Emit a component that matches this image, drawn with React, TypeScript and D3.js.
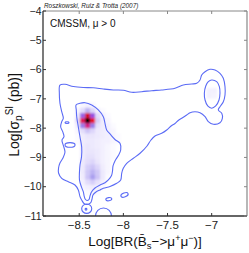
import * as d3 from 'd3'

const W = 249
const H = 253
const M = { left: 43, right: 247, top: 11, bottom: 216 }

const xTicks = [-8.5, -8, -7.5, -7]
const yTicks = [-4, -5, -6, -7, -8, -9, -10, -11]

// outer (95%) contour, data units
const outerContour: [number, number][] = [
  [-8.718, -6.527], [-8.661, -6.503], [-8.567, -6.578], [-8.454, -6.612], [-8.34, -6.619],
  [-8.227, -6.663], [-8.114, -6.697], [-8.001, -6.707], [-7.905, -6.776], [-7.792, -6.755],
  [-7.679, -6.721], [-7.566, -6.697], [-7.415, -6.639], [-7.321, -6.527], [-7.226, -6.492],
  [-7.169, -6.468], [-7.132, -6.356], [-7.113, -6.185], [-7.075, -6.072], [-7.019, -5.99],
  [-6.962, -6.014], [-6.906, -6.127], [-6.868, -6.298], [-6.849, -6.585], [-6.849, -6.868],
  [-6.868, -7.097], [-6.906, -7.267], [-6.925, -7.38], [-6.886, -7.493], [-6.879, -7.663],
  [-6.906, -7.814], [-6.981, -7.868], [-7.038, -7.78], [-7.075, -7.609], [-7.132, -7.472],
  [-7.189, -7.438], [-7.245, -7.472], [-7.283, -7.551], [-7.339, -7.663], [-7.378, -7.739],
  [-7.415, -7.841], [-7.452, -7.909], [-7.509, -8.063], [-7.566, -8.176], [-7.642, -8.268],
  [-7.687, -8.404], [-7.732, -8.609], [-7.811, -8.858], [-7.887, -9.029], [-7.962, -9.2],
  [-8.001, -9.371], [-8.019, -9.541], [-8.03, -9.77], [-8.075, -9.883], [-8.151, -9.992],
  [-8.227, -10.053], [-8.264, -10.111], [-8.31, -10.18], [-8.344, -10.282], [-8.355, -10.419],
  [-8.372, -10.555], [-8.412, -10.606], [-8.446, -10.572], [-8.472, -10.453], [-8.491, -10.34],
  [-8.51, -10.111], [-8.548, -9.941], [-8.623, -9.828], [-8.698, -9.712], [-8.734, -9.531],
  [-8.734, -9.36], [-8.718, -9.19], [-8.684, -9.019], [-8.661, -8.814], [-8.678, -8.609],
  [-8.695, -8.404], [-8.672, -8.292], [-8.687, -8.121], [-8.71, -7.95], [-8.698, -7.78],
  [-8.68, -7.663], [-8.698, -7.438], [-8.718, -7.151], [-8.725, -6.81],
]

// inner (68%) contour around the main peak
const innerContour: [number, number][] = [
  [-8.536, -7.209], [-8.491, -7.151], [-8.434, -7.131], [-8.358, -7.209], [-8.284, -7.38],
  [-8.227, -7.609], [-8.208, -7.834], [-8.189, -8.063], [-8.151, -8.199], [-8.095, -8.387],
  [-8.038, -8.517], [-8.03, -8.746], [-8.057, -8.934], [-8.095, -9.121], [-8.117, -9.292],
  [-8.123, -9.463], [-8.134, -9.616], [-8.17, -9.77], [-8.208, -9.862], [-8.264, -9.941],
  [-8.321, -10.043], [-8.361, -10.18], [-8.378, -10.316], [-8.389, -10.436], [-8.412, -10.47],
  [-8.429, -10.436], [-8.442, -10.34], [-8.454, -10.17], [-8.476, -9.999], [-8.497, -9.77],
  [-8.497, -9.497], [-8.491, -9.258], [-8.474, -8.985], [-8.472, -8.643], [-8.491, -8.302],
  [-8.51, -7.96], [-8.528, -7.619], [-8.533, -7.38],
]

// inner contour of the secondary mode at large BR
const innerRight: [number, number][] = [
  [-7.0, -6.356], [-6.943, -6.414], [-6.913, -6.585], [-6.906, -6.81], [-6.917, -7.039],
  [-6.954, -7.243], [-7.0, -7.322], [-7.045, -7.243], [-7.075, -7.039], [-7.083, -6.81],
  [-7.067, -6.561], [-7.038, -6.414],
]

// small isolated islands: centre x, centre y, half-width, half-height (data units), tilt (deg)
const islands: [number, number, number, number, number][] = [
  [-8.604, -8.575, 0.057, 0.079, 0],
  [-8.638, -7.814, 0.023, 0.03, 0],
  [-8.415, -10.75, 0.057, 0.16, 0],
  [-8.423, -10.77, 0.01, 0.03, 0],
  [-8.225, -11.017, 0.091, 0.29, 0],
  [-8.165, -10.426, 0.034, 0.055, -10],
  [-7.987, -10.282, 0.043, 0.068, -20],
]

// posterior density on bins (centres)
const densityX = [-8.578, -8.52, -8.463, -8.405, -8.348, -8.29, -8.233, -8.175, -8.118, -8.06]
const densityY = [
  -7.22, -7.395, -7.57, -7.745, -7.92, -8.095, -8.27, -8.445, -8.62,
  -8.795, -8.97, -9.145, -9.32, -9.495, -9.67, -9.845, -10.02, -10.195,
]
const density = [
  [0, 0, 0.02, 0.03, 0.02, 0, 0, 0, 0, 0],
  [0, 0.02, 0.08, 0.2, 0.1, 0.03, 0.01, 0, 0, 0],
  [0, 0.04, 0.4, 0.78, 0.45, 0.08, 0.03, 0.01, 0, 0],
  [0, 0.08, 0.7, 1.0, 0.75, 0.12, 0.04, 0.02, 0, 0],
  [0, 0.04, 0.35, 0.65, 0.35, 0.07, 0.04, 0.03, 0.01, 0],
  [0, 0.02, 0.08, 0.15, 0.1, 0.05, 0.04, 0.03, 0.02, 0],
  [0, 0.01, 0.04, 0.06, 0.06, 0.05, 0.04, 0.03, 0.02, 0.01],
  [0, 0.01, 0.04, 0.05, 0.05, 0.04, 0.03, 0.03, 0.02, 0.01],
  [0, 0, 0.04, 0.06, 0.05, 0.04, 0.03, 0.02, 0.01, 0],
  [0, 0, 0.04, 0.06, 0.06, 0.05, 0.03, 0.02, 0.01, 0],
  [0, 0, 0.04, 0.07, 0.07, 0.05, 0.03, 0.02, 0.01, 0],
  [0, 0, 0.05, 0.08, 0.1, 0.06, 0.03, 0.02, 0, 0],
  [0, 0, 0.05, 0.12, 0.15, 0.1, 0.04, 0.02, 0, 0],
  [0, 0, 0.05, 0.14, 0.2, 0.14, 0.05, 0.02, 0, 0],
  [0, 0, 0.04, 0.15, 0.26, 0.15, 0.05, 0.01, 0, 0],
  [0, 0, 0.03, 0.08, 0.12, 0.07, 0.03, 0, 0, 0],
  [0, 0, 0.02, 0.03, 0.04, 0.03, 0.01, 0, 0, 0],
  [0, 0, 0, 0.01, 0.02, 0.01, 0, 0, 0, 0],
]
const densityRightX = [-7.03, -6.97]
const densityRightY = [-6.72, -6.895]
const densityRight = [
  [0.03, 0.03],
  [0.03, 0.025],
]

const colorStops = [0, 0.03, 0.1, 0.2, 0.3, 0.45, 0.6, 0.75, 0.88, 1]
const colorRange = [
  '#ffffff', '#f3f0fe', '#ddd6fa', '#bcb2f3', '#9d90ec',
  '#9a4ee0', '#d21fa8', '#e8102a', '#9a0000', '#000000',
]

const BIN_W = 0.0575
const BIN_H = 0.175
const FONT = 'Liberation Sans, Arial, Helvetica, sans-serif'
const CONTOUR = '#5b6bf5'

export default function App(): JSX.Element {
  const x = d3.scaleLinear().domain([-8.91, -6.6]).range([M.left, M.right])
  const y = d3.scaleLinear().domain([-11, -4]).range([M.bottom, M.top])
  const color = d3.scaleLinear<string>().domain(colorStops).range(colorRange).interpolate(d3.interpolateRgb).clamp(true)

  const line = d3
    .line<[number, number]>()
    .x((d) => x(d[0]))
    .y((d) => y(d[1]))
    .curve(d3.curveCatmullRomClosed.alpha(0.5))

  const cells: { x: number; y: number; v: number }[] = []
  density.forEach((row, r) => row.forEach((v, c) => {
    if (v > 0) cells.push({ x: densityX[c], y: densityY[r], v })
  }))
  densityRight.forEach((row, r) => row.forEach((v, c) => {
    cells.push({ x: densityRightX[c], y: densityRightY[r], v })
  }))

  const cw = x(BIN_W) - x(0)
  const ch = y(0) - y(BIN_H)

  return (
    <div style={{ position: 'fixed', left: 0, top: 0 }}>
      <svg width={W} height={H} style={{ display: 'block', background: '#fff' }} fontFamily={FONT}>
        <defs>
          <clipPath id="plotClip">
            <rect x={M.left} y={M.top} width={M.right - M.left} height={M.bottom - M.top} />
          </clipPath>
          <filter id="soft" x="-10%" y="-10%" width="120%" height="120%">
            <feGaussianBlur stdDeviation="0.9" />
          </filter>
        </defs>

        <text x={M.left + 1} y={8.3} fontSize={6.4} fontStyle="italic" fill="#222">
          Roszkowski, Ruiz &amp; Trotta (2007)
        </text>

        <g clipPath="url(#plotClip)">
          <g filter="url(#soft)">
            {cells.map((d, i) => (
              <rect
                key={i}
                x={x(d.x) - cw / 2}
                y={y(d.y) - ch / 2}
                width={cw + 0.3}
                height={ch + 0.3}
                fill={color(d.v)}
              />
            ))}
          </g>
          <g fill="none" stroke={CONTOUR} strokeWidth={1.1}>
            <path d={line(outerContour) ?? ''} />
            <path d={line(innerContour) ?? ''} />
            <path d={line(innerRight) ?? ''} />
            {islands.map(([cx, cy, rx, ry, rot], i) => (
              <ellipse
                key={i}
                cx={x(cx)}
                cy={y(cy)}
                rx={x(cx + rx) - x(cx)}
                ry={y(cy) - y(cy + ry)}
                transform={`rotate(${rot} ${x(cx)} ${y(cy)})`}
              />
            ))}
          </g>
        </g>

        <text x={M.left + 7} y={26.5} fontSize={10} fill="#111">
          CMSSM, μ &gt; 0
        </text>

        {/* box */}
        <line x1={M.left} x2={M.right} y1={M.top} y2={M.top} stroke="#888" strokeWidth={1} />
        <line x1={M.right} x2={M.right} y1={M.top} y2={M.bottom} stroke="#888" strokeWidth={1.2} />
        <line x1={M.left} x2={M.left} y1={M.top} y2={M.bottom} stroke="#333" strokeWidth={1.3} />
        <line x1={M.left} x2={M.right} y1={M.bottom} y2={M.bottom} stroke="#333" strokeWidth={1.3} />

        {xTicks.map((t) => (
          <g key={t}>
            <line x1={x(t)} x2={x(t)} y1={M.bottom} y2={M.bottom - 3} stroke="#333" />
            <line x1={x(t)} x2={x(t)} y1={M.top} y2={M.top + 3} stroke="#888" />
            <text x={x(t)} y={229} fontSize={11.5} textAnchor="middle" fill="#222">
              {String(t).replace('-', '−')}
            </text>
          </g>
        ))}
        {yTicks.map((t) => (
          <g key={t}>
            <line x1={M.left} x2={M.left + 3} y1={y(t)} y2={y(t)} stroke="#333" />
            <line x1={M.right} x2={M.right - 3} y1={y(t)} y2={y(t)} stroke="#888" />
            <text x={41.5} y={y(t)} dy="0.35em" fontSize={10.5} textAnchor="end" fill="#222">
              {String(t).replace('-', '−')}
            </text>
          </g>
        ))}

        <text x={145} y={245.5} fontSize={13.5} textAnchor="middle" fill="#111">
          Log[BR(B̄
          <tspan fontSize={9.5} dy={3}>s</tspan>
          <tspan dy={-3}>−&gt;μ</tspan>
          <tspan fontSize={9} dy={-4.5}>+</tspan>
          <tspan dy={4.5}>μ</tspan>
          <tspan fontSize={9} dy={-4.5}>−</tspan>
          <tspan dy={4.5}>)]</tspan>
        </text>

        <text transform="translate(18.5,115) rotate(-90)" fontSize={14} textAnchor="middle" fill="#111">
          Log[σ
          <tspan fontSize={10} dy={3.5}>p</tspan>
          <tspan fontSize={10} dy={-9}>SI</tspan>
          <tspan dy={5.5}> (pb)]</tspan>
        </text>
      </svg>
    </div>
  )
}
